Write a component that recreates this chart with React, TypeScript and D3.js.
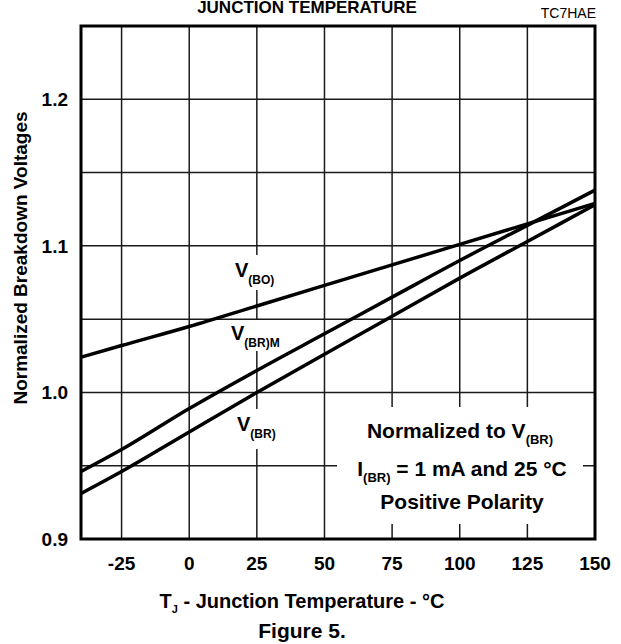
import React from "react";
import * as d3 from "d3";

// temperature samples (°C) and normalized voltages
const temps = [-40, -25, 0, 25, 50, 75, 100, 125, 150];
const vBO = [1.024, 1.032, 1.045, 1.059, 1.073, 1.087, 1.101, 1.115, 1.129];
const vBRM = [0.946, 0.961, 0.989, 1.015, 1.04, 1.065, 1.09, 1.114, 1.138];
const vBR = [0.931, 0.946, 0.973, 1.0, 1.026, 1.052, 1.078, 1.103, 1.128];

const xTicks = [-25, 0, 25, 50, 75, 100, 125, 150];
const xGrid = [-25, 0, 25, 50, 75, 100, 125];
const yTicks = [0.9, 1.0, 1.1, 1.2];
const yGrid = [0.95, 1.0, 1.05, 1.1, 1.15, 1.2];

const W = 621;
const H = 644;
const FONT = "'Liberation Sans', Arial, sans-serif";

const App: React.FC = () => {
  const x = d3.scaleLinear().domain([-40, 150]).range([81, 595]);
  const y = d3.scaleLinear().domain([0.9, 1.25]).range([539, 26]);

  const line = d3
    .line<number>()
    .x((_, i) => x(temps[i]))
    .y((d) => y(d))
    .curve(d3.curveMonotoneX);

  const series = [vBO, vBRM, vBR];

  return (
    <div style={{ position: "absolute", left: 0, top: 0 }}>
      <svg width={W} height={H} style={{ display: "block", background: "#fff" }} fontFamily={FONT}>
        {/* grid */}
        {xGrid.map((t) => (
          <line key={"gx" + t} x1={x(t)} x2={x(t)} y1={y(1.25)} y2={y(0.9)} stroke="#1a1a1a" strokeWidth={1.5} />
        ))}
        {yGrid.map((v) => (
          <line key={"gy" + v} x1={x(-40)} x2={x(150)} y1={y(v)} y2={y(v)} stroke="#1a1a1a" strokeWidth={1.5} />
        ))}

        {/* white backgrounds behind the labels */}
        <rect x={232} y={255} width={50} height={35} fill="#fff" />
        <rect x={225} y={320} width={61} height={31} fill="#fff" />
        <rect x={232} y={409} width={50} height={40} fill="#fff" />
        <rect x={337} y={407} width={246} height={117} fill="#fff" />

        {/* curves */}
        {series.map((s, i) => (
          <path key={i} d={line(s) ?? ""} fill="none" stroke="#000" strokeWidth={3.5} />
        ))}

        {/* frame */}
        <rect x={x(-40)} y={y(1.25)} width={x(150) - x(-40)} height={y(0.9) - y(1.25)} fill="none" stroke="#000" strokeWidth={3} />

        {/* curve labels */}
        <text x={235} y={277} fontSize={20} fontWeight="bold">
          V<tspan fontSize={12} dy={7}>(BO)</tspan>
        </text>
        <text x={231} y={340} fontSize={20} fontWeight="bold">
          V<tspan fontSize={12} dy={7}>(BR)M</tspan>
        </text>
        <text x={237} y={431} fontSize={20} fontWeight="bold">
          V<tspan fontSize={12} dy={7}>(BR)</tspan>
        </text>

        {/* note */}
        <text x={460} y={438} fontSize={21} fontWeight="bold" textAnchor="middle">
          Normalized to V<tspan fontSize={13} dy={6}>(BR)</tspan>
        </text>
        <text x={462} y={476} fontSize={21} fontWeight="bold" textAnchor="middle">
          I<tspan fontSize={13} dy={6}>(BR)</tspan>
          <tspan dy={-6}> = 1 mA and 25 °C</tspan>
        </text>
        <text x={462} y={509} fontSize={21} fontWeight="bold" textAnchor="middle">
          Positive Polarity
        </text>

        {/* axis tick labels */}
        {xTicks.map((t) => (
          <text key={"xt" + t} x={x(t)} y={570} fontSize={19} fontWeight="bold" textAnchor="middle">
            {t}
          </text>
        ))}
        {yTicks.map((v) => (
          <text key={"yt" + v} x={68} y={y(v) + 7} fontSize={19} fontWeight="bold" textAnchor="end">
            {v.toFixed(1)}
          </text>
        ))}

        {/* axis titles */}
        <text transform="translate(27,258) rotate(-90)" fontSize={19} fontWeight="bold" textAnchor="middle">
          Normalized Breakdown Voltages
        </text>
        <text x={302} y={608} fontSize={20} fontWeight="bold" textAnchor="middle">
          T<tspan fontSize={11} dy={5}>J</tspan>
          <tspan dy={-5}> - Junction Temperature - °C</tspan>
        </text>
        <text x={302} y={638} fontSize={21} fontWeight="bold" textAnchor="middle">
          Figure 5.
        </text>

        {/* header */}
        <text x={307} y={13} fontSize={17} fontWeight="bold" textAnchor="middle">
          JUNCTION TEMPERATURE
        </text>
        <text x={596} y={18} fontSize={14} textAnchor="end">
          TC7HAE
        </text>
      </svg>
    </div>
  );
};

export default App;
